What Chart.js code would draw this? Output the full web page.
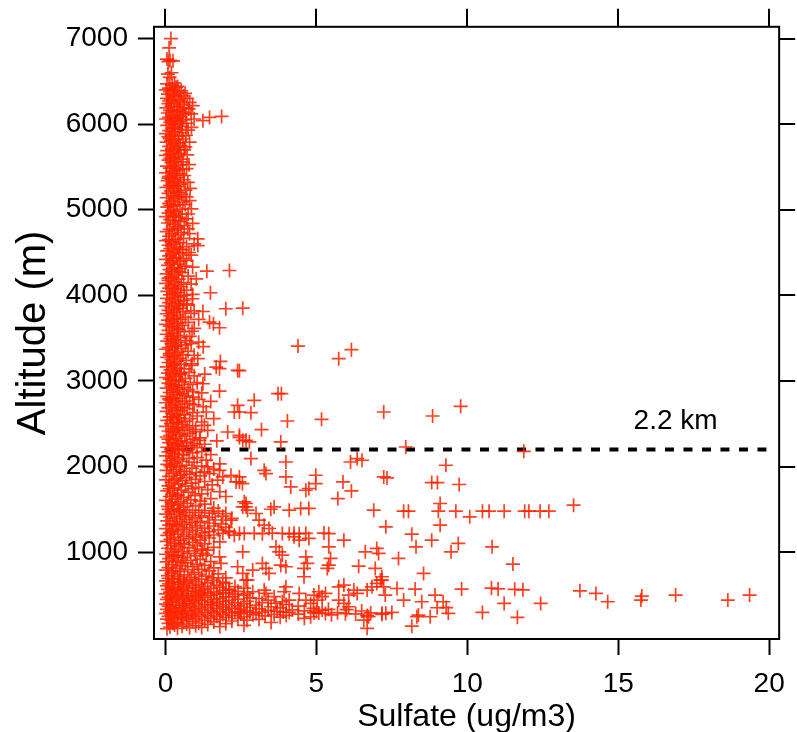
<!DOCTYPE html>
<html>
<head>
<meta charset="utf-8">
<script src="https://cdn.jsdelivr.net/npm/chart.js@4.4.1/dist/chart.umd.min.js"></script>
<style>
  html, body { margin: 0; padding: 0; background: #fff; }
  #wrap { width: 797px; height: 732px; }
</style>
</head>
<body>
<div id="wrap"><canvas id="sulfateChart" width="797" height="732"></canvas></div>
<script>
// tick values
const xTicks = [0, 5, 10, 15, 20];
const yTicks = [1000, 2000, 3000, 4000, 5000, 6000, 7000];

// reference line (boundary layer top)
const refAltitude = 2200;
const refLineX = [0, 20];
const refLabel = '2.2 km';
const refLabelAt = [16.9, 2530];

// [sulfate ug/m3, altitude m]
const band7000to4000 = [
  [0.18,7000],[0.12,6890],[0.05,6760],[0.15,6745],[0.25,6740],[0.1,6730],[0.2,6600],[0.08,6585],[0.14,6545],
  [0.3,6480],[0.05,6470],[0.22,6455],[0.4,6440],[0.12,6420],
  [0.02,6400],[0.3,6395],[0.52,6390],[0.15,6380],[0.45,6370],[0.08,6350],[0.25,6340],[0.6,6330],[0.35,6320],
  [0.05,6300],[0.18,6290],[0.42,6280],[0.8,6253],[0.28,6250],[0.1,6240],[0.55,6230],[0.2,6210],[0.38,6200],
  [0.03,6190],[0.77,6177],[0.48,6170],[0.15,6160],[0.3,6150],[0.6,6140],[0.08,6130],[0.67,6118],[0.4,6110],
  [0.22,6100],[0.5,6090],[0.12,6080],[0.35,6070],[0.02,6060],[0.58,6050],[0.26,6045],[0.45,6030],[0.16,6020],
  [0.7,6010],[0.32,6000],[1.24,6040],[1.46,6078],[1.86,6090],
  [0.06,5985],[0.5,5975],[0.86,5962],[0.24,5950],[0.4,5940],[0.12,5925],[0.3,5910],[0.55,5900],[0.02,5890],
  [0.2,5875],[0.45,5860],[0.1,5850],[0.58,5826],[0.33,5820],[0.18,5805],[0.04,5790],[0.42,5780],[0.26,5765],
  [0.5,5750],[0.12,5740],[0.36,5725],[0.22,5710],[0.62,5700],[0.06,5690],[0.3,5675],[0.46,5660],[0.16,5650],
  [0.02,5635],[0.38,5620],[0.26,5605],[0.52,5590],[0.1,5580],[0.32,5565],[0.2,5550],[0.78,5526],[0.44,5520],
  [0.05,5510],[0.28,5500],[0.14,5485],[0.56,5470],[0.36,5460],[0.22,5445],[0.02,5430],[0.48,5420],[0.3,5405],
  [0.12,5390],[0.4,5375],[0.2,5360],[0.6,5350],[0.07,5340],[0.34,5325],[0.24,5310],[0.5,5300],[0.15,5285],
  [0.42,5270],[0.03,5260],[0.28,5245],[0.66,5230],[0.18,5220],[0.38,5205],[0.1,5190],[0.52,5180],[0.26,5165],
  [0.45,5150],[0.04,5140],[0.32,5125],[0.8,5106],[0.2,5100],[0.58,5090],[0.12,5075],[0.4,5060],[0.28,5045],
  [0.06,5030],[0.86,5010],[0.48,5005],
  [0.2,4990],[0.35,4975],[0.1,4960],[0.55,4950],[0.25,4935],[0.02,4920],[0.44,4910],[0.69,4893],[0.16,4885],
  [0.32,4870],[0.5,4860],[0.08,4845],[0.26,4830],[0.62,4815],[0.4,4800],[0.74,4776],[0.14,4770],[0.3,4760],
  [0.04,4745],[0.52,4735],[0.22,4720],[0.42,4705],[0.12,4690],[1.07,4660],[0.6,4665],[0.34,4650],[0.02,4640],
  [0.2,4625],[0.48,4615],[0.28,4600],[1.07,4581],[0.1,4585],[0.7,4570],[0.38,4560],[0.16,4545],[0.56,4530],
  [0.06,4520],[0.3,4505],[0.45,4490],[0.22,4480],[0.85,4470],[0.12,4460],[0.36,4445],[0.6,4430],[0.02,4420],
  [0.26,4405],[0.5,4395],[0.18,4380],[0.4,4365],[0.08,4350],[0.65,4340],[0.3,4325],[0.48,4310],[0.14,4300],
  [1.37,4282],[2.12,4290],[0.22,4275],[0.55,4265],[0.04,4250],[0.35,4240],[0.75,4225],[0.18,4215],[1.02,4193],
  [0.44,4190],[0.1,4175],[0.28,4160],[0.6,4150],[0.02,4140],[0.38,4125],[0.2,4110],[0.52,4100],[0.12,4085],
  [0.32,4070],[0.7,4060],[1.49,4030],[0.06,4045],[0.42,4035],[0.25,4020],[0.9,4010],[0.15,4005]
];

const band4000to3000 = [
  [0.5,3990],[0.34,3975],[0.89,3960],[0.05,3965],[0.22,3950],[0.6,3940],[0.42,3925],[0.12,3915],[0.3,3900],
  [0.72,3885],[0.02,3875],[2.0,3843],[2.56,3850],[0.2,3860],[0.48,3850],[0.36,3835],[0.1,3825],[1.24,3811],
  [0.58,3810],[0.26,3800],[0.84,3790],[0.04,3785],[0.4,3770],[0.16,3760],[0.66,3745],[0.3,3735],[0.5,3720],
  [0.08,3710],[1.46,3687],[1.59,3668],[1.79,3621],[0.22,3695],[0.76,3685],[0.38,3675],[0.02,3660],[0.56,3650],
  [0.14,3640],[0.3,3625],[0.95,3615],[0.44,3600],[0.1,3590],[0.62,3575],[0.24,3560],[0.04,3545],[0.36,3530],
  [0.8,3520],[0.5,3505],[0.16,3495],[0.28,3480],[1.1,3453],[0.85,3434],[0.06,3465],[0.42,3450],[0.2,3435],
  [0.66,3420],[0.32,3405],[4.39,3407],[0.1,3390],[0.52,3380],[6.16,3365],[0.02,3370],[0.24,3355],[0.75,3345],
  [0.4,3330],[0.14,3320],[0.58,3305],[0.3,3290],[5.74,3260],[1.07,3260],[0.06,3275],[0.46,3265],[0.2,3250],
  [0.68,3240],[1.82,3228],[0.36,3230],[0.1,3215],[0.88,3200],[0.52,3195],[0.26,3180],[1.68,3162],[1.79,3143],
  [0.04,3165],[0.4,3150],[0.62,3140],[0.16,3130],[2.39,3123],[2.45,3120],[0.32,3115],[0.78,3100],[0.08,3090],
  [0.5,3080],[0.22,3070],[0.95,3060],[0.36,3050],[0.02,3040],[0.66,3030],[0.14,3020],[0.44,3010],[0.28,3000]
];

const band3000to2200 = [
  [0.55,2990],[1.24,2967],[0.1,2975],[0.82,2960],[0.34,2950],[0.2,2935],[0.62,2925],[0.04,2915],[0.46,2905],
  [1.79,2881],[0.28,2890],[0.9,2875],[0.14,2865],[3.73,2851],[3.84,2851],[0.56,2850],[0.38,2840],[0.7,2825],
  [0.91,2811],[0.06,2820],[0.24,2805],[2.94,2773],[0.48,2795],[1.1,2785],[0.16,2775],[0.64,2765],[0.32,2755],
  [0.02,2745],[0.8,2735],[0.42,2725],[2.39,2715],[9.78,2703],[0.2,2715],[1.25,2700],[0.56,2695],[0.1,2685],
  [0.72,2675],[0.3,2665],[1.35,2637],[2.28,2637],[2.45,2637],[2.83,2629],[7.23,2637],[0.5,2650],[0.04,2645],
  [0.9,2630],[0.22,2620],[0.62,2610],[8.85,2590],[0.38,2600],[1.05,2590],[0.14,2580],[0.46,2570],[0.8,2560],
  [4.04,2532],[5.17,2551],[0.28,2550],[0.06,2540],[0.66,2530],[1.2,2520],[0.36,2510],[0.18,2500],[0.54,2490],
  [1.29,2481],[0.9,2475],[0.02,2470],[0.42,2460],[0.72,2450],[0.24,2440],[1.4,2423],[3.18,2430],[0.58,2425],
  [0.1,2415],[2.06,2403],[1.0,2405],[0.32,2395],[0.8,2385],[0.48,2375],[2.45,2365],[0.16,2365],[0.64,2355],
  [2.45,2340],[0.04,2345],[1.15,2335],[0.36,2330],[0.9,2320],[2.56,2306],[2.67,2306],[1.13,2306],[0.22,2310],
  [0.52,2300],[2.78,2287],[3.82,2287],[0.96,2268],[0.7,2285],[0.12,2280],[0.4,2270],[1.3,2260],[0.28,2255],
  [0.84,2245],[0.56,2235],[7.96,2228],[0.06,2225],[1.05,2220],[0.34,2210],[11.87,2178],[0.18,2200],[0.7,2195]
];

const band2200to1500 = [
  [0.45,2185],[1.2,2175],[0.1,2170],[0.9,2160],[0.3,2150],[1.5,2140],[0.6,2135],[0.02,2125],[0.22,2115],
  [1.05,2105],[2.83,2093],[6.35,2093],[0.78,2095],[0.4,2085],[1.35,2075],[6.51,2073],[0.14,2070],[0.55,2060],
  [3.99,2053],[6.13,2053],[0.95,2050],[0.3,2040],[1.8,2030],[0.06,2025],[9.29,2015],[0.7,2015],[1.2,2005],
  [0.46,2000],[1.4,1995],[0.2,1990],[0.88,1980],[1.6,1970],[0.36,1965],[1.79,1956],[3.27,1956],[0.04,1955],
  [0.62,1945],[1.29,1937],[1.02,1930],[3.33,1918],[1.46,1918],[0.26,1920],[0.8,1910],[4.98,1898],[2.17,1898],
  [0.5,1900],[1.15,1890],[0.12,1885],[1.9,1878],[2.45,1878],[3.99,1878],[7.23,1878],[7.34,1867],[0.7,1870],
  [0.38,1860],[1.0,1850],[1.73,1840],[0.02,1845],[0.56,1835],[1.3,1825],[2.34,1820],[2.45,1820],[5.88,1820],
  [8.82,1813],[9.01,1813],[0.2,1815],[0.86,1805],[2.55,1801],[4.98,1801],[9.73,1790],[0.44,1795],[1.55,1785],
  [0.1,1775],[0.66,1770],[4.15,1762],[1.1,1760],[0.3,1750],[4.75,1743],[0.9,1740],[1.4,1730],[4.65,1723],
  [6.16,1715],[0.52,1725],[0.06,1715],[1.8,1705],[0.76,1700],[0.24,1690],[1.2,1680],[0.4,1670],[0.98,1660],
  [2.0,1650],[0.14,1650],[0.6,1640],[5.71,1626],[1.5,1625],[0.32,1620],[0.84,1610],[0.02,1605],[1.15,1595],
  [2.61,1587],[0.5,1590],[0.2,1580],[2.67,1568],[9.1,1568],[13.52,1548],[0.72,1570],[1.3,1560],[0.4,1550],
  [1.0,1540],[0.08,1535],[2.56,1528],[2.67,1528],[3.6,1528],[0.6,1525],[1.6,1515],[4.48,1510],[4.75,1510],
  [0.28,1510]
];

const band1500to700 = [
  [2.72,1490],[3.49,1501],[4.1,1490],[6.9,1490],[7.89,1478],[8.05,1478],[9.04,1478],[9.62,1478],[10.5,1478],
  [10.72,1478],[11.22,1478],[11.9,1478],[12.04,1478],[12.41,1478],[12.7,1478],
  [0.1,1500],[0.45,1495],[0.9,1490],[1.3,1485],[1.75,1480],[0.2,1470],[0.65,1465],[1.1,1460],[1.55,1455],
  [2.0,1450],[3.0,1451],[0.02,1445],[0.38,1440],[0.8,1430],[1.2,1425],[1.9,1420],[0.55,1415],[0.15,1410],
  [10.08,1412],[1.45,1405],[0.98,1400],[2.2,1395],[0.3,1390],[0.7,1380],[3.1,1373],[2.17,1373],[1.65,1375],
  [0.06,1365],[1.15,1360],[0.48,1355],[0.88,1345],[1.4,1340],[0.24,1335],[1.85,1330],[0.62,1325],[3.27,1315],
  [9.1,1315],[0.12,1315],[1.05,1310],[1.6,1305],[0.4,1300],[7.3,1295],[2.0,1290],[0.8,1285],[1.3,1280],
  [3.43,1276],[0.02,1275],[0.55,1265],[1.75,1260],[1.0,1255],[0.28,1250],[2.1,1245],[1.45,1240],[2.12,1237],
  [0.7,1235],[0.14,1225],[1.2,1225],[1.9,1220],
  [2.45,1218],[2.61,1218],[2.94,1220],[3.21,1215],[3.54,1222],[3.87,1218],[4.1,1214],[4.26,1220],[4.43,1216],
  [4.65,1218],[5.25,1222],[5.41,1215],[8.16,1210],
  [0.42,1210],[0.9,1205],[1.6,1200],[2.28,1198],[0.06,1195],[1.3,1190],[0.6,1185],[1.0,1175],[4.26,1179],
  [0.3,1170],[1.45,1165],[4.75,1160],[0.78,1155],[0.16,1150],[4.43,1140],[5.91,1140],[8.82,1140],[1.15,1140],
  [0.5,1135],[0.04,1125],[1.8,1120],[0.9,1115],[0.3,1105],[9.7,1101],[1.3,1100],[0.62,1090],[0.18,1080],
  [1.05,1075],[0.44,1065],[3.66,1062],[5.41,1062],[8.3,1062],[10.82,1062],[7.0,1043],[1.6,1055],[0.78,1050],
  [0.08,1045],[1.2,1035],[0.35,1030],[1.4,1023],[0.96,1015],[0.56,1005],[2.56,1003],[3.77,1003],[6.62,1003],
  [9.46,1003],[0.2,1000],[1.24,985],[7.06,985],[0.72,985],[0.02,975],[1.35,965],[3.87,965],[0.42,965],
  [1.0,955],[1.79,945],[4.65,945],[0.26,945],[0.6,935],[5.47,926],[7.72,926],[0.12,925],[1.15,915],[0.84,905],
  [0.38,900],[1.5,890],[0.04,885],[1.84,868],[3.21,868],[4.7,868],[11.51,860],[0.66,875],[1.05,860],[0.22,855],
  [5.41,848],[3.82,848],[1.3,845],[0.5,840],[6.4,836],[3.99,829],[2.39,829],[0.9,830],[0.1,820],[1.6,815],
  [2.89,790],[3.33,810],[4.59,810],[5.36,810],[6.95,810],[0.34,810],[1.2,800],[0.74,795],[0.02,790],
  [1.45,780],[0.48,775],[0.96,765],[2.56,751],[3.43,751],[8.55,751],[0.2,755],[1.75,745],[1.1,740],[0.62,735],
  [0.08,725],[1.35,720],[4.59,712],[7.17,712],[0.4,715],[0.86,705],[2.0,700],[1.55,700]
];

const band700to100 = [
  [0.1,695],[0.5,690],[1.2,685],[0.3,680],[0.8,675],[2.67,673],[2.72,673],[7.12,673],[7.17,673],[1.6,670],
  [0.02,665],[0.6,660],[1.0,655],[1.9,650],[0.25,648],[1.4,640],[0.7,635],[2.0,634],[7.0,634],[0.12,630],
  [1.1,625],[0.45,620],[1.7,615],[5.91,615],[0.9,610],[0.05,605],[1.3,600],[2.3,598],[0.6,595],[3.99,595],
  [5.74,595],[6.84,595],[7.23,595],[1.8,590],[0.2,588],[1.0,585],[2.6,580],[0.4,578],[1.5,575],[0.75,570],
  [7.67,575],[8.27,568],[9.81,568],[10.8,580],[11.02,570],[11.57,565],[11.84,560],[2.1,568],[0.08,565],
  [1.25,560],[3.27,557],[2.12,557],[6.24,557],[6.68,557],[0.55,555],[1.9,552],[13.73,548],[0.3,548],[1.0,545],
  [2.4,542],[0.7,540],[2.89,537],[3.93,537],[5.08,537],[1.6,535],[0.15,532],[1.15,528],[2.0,525],[0.5,522],
  [1.4,520],[1.9,518],[2.72,518],[3.33,518],[4.43,518],[5.3,518],[6.35,518],[14.26,518],[0.9,515],[0.02,512],
  [2.3,510],[1.7,506],[0.4,504],[1.2,500],[4.92,498],[6.07,498],[7.28,498],[8.93,498],[16.9,498],[19.35,498],
  [0.75,496],[2.6,494],[0.2,492],[1.5,490],[15.78,487],[1.0,486],[0.6,482],[2.23,479],[3.6,479],[5.19,479],
  [2.0,476],[0.1,474],[1.3,472],[0.85,468],[2.8,465],[0.35,462],[1.8,460],[3.1,458],[0.55,455],[1.1,452],
  [2.4,450],[0.05,448],[1.6,445],[0.7,442],[7.89,440],[4.1,440],[4.65,440],[5.03,440],[5.74,440],[15.75,440],
  [18.63,440],[3.4,438],[2.1,436],[0.25,435],[1.2,432],[0.9,428],[2.7,425],[1.9,422],[3.87,420],[8.49,420],
  [9.2,420],[14.65,420],[0.45,418],[1.5,415],[0.15,412],[3.2,410],[2.3,408],[1.0,405],[3.66,401],[4.81,401],
  [5.91,401],[11.22,401],[12.43,401],[0.6,400],[1.7,398],[2.6,395],[0.02,392],[1.3,390],[4.0,388],[2.0,385],
  [0.8,382],[3.0,380],[0.35,378],[1.55,375],[2.4,372],[4.4,370],[0.1,368],[1.1,365],[6.07,362],[3.5,362],
  [1.9,360],[0.65,358],[2.8,356],[9.0,350],[9.3,352],[0.2,352],[1.4,350],[3.8,348],[2.2,346],[0.95,344],
  [4.9,342],[1.7,340],[0.45,338],[3.1,336],[2.5,334],[5.4,332],[0.05,330],[1.2,330],[6.0,328],[2.0,326],
  [4.2,325],[5.19,323],[0.7,322],[3.4,320],[1.5,318],[2.7,316],[0.3,315],[4.6,313],[6.5,312],[1.0,310],
  [3.7,308],[2.3,306],[0.15,305],[5.0,304],[1.8,302],[2.45,300],[2.8,300],[3.2,298],[3.9,300],[0.55,298],
  [4.1,296],[10.5,296],[7.5,296],[1.3,295],[5.7,292],[2.1,290],[4.92,290],[5.08,288],[0.85,288],[6.8,290],
  [7.17,286],[7.3,285],[9.37,285],[0.02,285],[1.6,284],[5.3,284],[3.0,283],[2.5,280],[5.96,280],[6.3,278],
  [0.4,278],[1.1,276],[4.4,275],[7.17,273],[3.6,272],[1.9,270],[0.65,270],[2.9,268],[5.5,268],[8.38,265],
  [0.2,265],[1.4,262],[6.68,260],[4.0,260],[2.2,258],[0.9,256],[3.3,254],[1.7,252],[0.1,250],[4.81,245],
  [6.73,245],[8.33,245],[8.77,245],[1.2,246],[2.6,244],[0.5,242],[11.66,238],[3.8,240],[2.0,236],[0.75,234],
  [1.5,230],[0.3,228],[4.6,226],[2.4,224],[1.0,220],[0.05,218],[3.1,215],[1.8,212],[0.6,210],[6.57,205],
  [2.7,205],[1.3,202],[0.2,200],[2.2,195],[0.9,190],[1.6,185],[0.4,180],[3.5,178],[1.1,172],[0.1,168],
  [2.0,165],[0.7,160],[1.4,155],[0.3,150],[2.6,145],[1.0,140],[0.55,135],[8.16,135],[1.8,130],[0.15,125],
  [1.2,120],[6.68,110],[0.8,115],[0.4,110],[0.05,105]
];

// extra readings inside the solid red column
const columnFill = [
  [0.35,6430],[0.65,6360],[0.72,6300],[0.48,6265],[0.9,6215],[0.62,6190],[0.85,6120],[0.95,6060],[0.55,6005],
  [0.75,5930],[0.68,5870],[0.8,5790],[0.66,5735],[0.72,5640],[0.58,5560],[0.7,5480],[0.62,5400],[0.74,5320],
  [0.82,5250],[0.7,5150],[0.65,5060],[0.75,4950],[0.9,4840],[0.8,4720],[0.95,4600],[0.78,4500],[0.7,4410],
  [0.9,4330],[0.85,4130],[0.62,4000],[0.7,3900],[0.95,3820],[1.1,3720],[0.88,3580],[0.7,3470],[1.25,3400],
  [0.95,3300],[0.85,3180],[1.3,3080],[1.05,2980],[0.75,2900],[1.2,2860],[1.5,2760],[0.95,2720],[1.6,2560],
  [1.0,2430],[1.7,2300],[0.6,2200],
  [0.28,6340],[0.12,6270],[0.4,6150],[0.2,6040],[0.3,5960],[0.14,5830],[0.42,5700],[0.16,5600],[0.36,5480],
  [0.1,5370],[0.3,5280],[0.44,5200],[0.16,5050],[0.28,4920],[0.4,4780],[0.12,4650],[0.46,4540],[0.26,4430],
  [0.42,4280],[0.1,4200],[0.3,4080],[0.44,3880],[0.26,3720],[0.4,3610],[0.2,3520],[0.36,3410],[0.14,3300],
  [0.3,3200],[0.48,3090],[0.2,2960],[0.4,2870],[0.12,2790],[0.36,2690],[0.2,2580],[0.42,2520],[0.26,2410],
  [0.1,2320],[0.42,2240],[0.3,2100],[0.16,2010],[0.5,1940],[0.3,1840],[0.14,1740],[0.4,1660],[0.22,1560],
  [0.48,1480],[0.35,1320],[0.2,1240],[0.5,1100],[0.3,960],[0.55,880],[0.25,780],[0.45,650],[0.3,560],
  [0.2,450],[0.6,380],[0.35,300],[0.55,240],[0.25,170]
];

const allPoints = [].concat(band7000to4000, band4000to3000, band3000to2200,
                            band2200to1500, band1500to700, band700to100, columnFill)
  .map(p => ({ x: p[0], y: p[1] }));

const fontFamily = '"Liberation Sans", Arial, Helvetica, sans-serif';

// frame, mirrored ticks and the "2.2 km" note
const framePlugin = {
  id: 'frame',
  afterDraw(chart) {
    const { ctx, chartArea: a, scales: { x, y } } = chart;
    ctx.save();
    ctx.strokeStyle = '#000';
    ctx.lineWidth = 2;
    ctx.strokeRect(a.left, a.top, a.right - a.left, a.bottom - a.top);
    ctx.beginPath();
    xTicks.forEach(v => {
      const px = Math.round(x.getPixelForValue(v));
      ctx.moveTo(px, a.top);
      ctx.lineTo(px, a.top - 18);
    });
    yTicks.forEach(v => {
      const py = Math.round(y.getPixelForValue(v));
      ctx.moveTo(a.right, py);
      ctx.lineTo(a.right + 16, py);
    });
    ctx.stroke();
    ctx.fillStyle = '#000';
    ctx.font = '28px ' + fontFamily;
    ctx.textAlign = 'center';
    ctx.textBaseline = 'middle';
    ctx.fillText(refLabel, x.getPixelForValue(refLabelAt[0]), y.getPixelForValue(refLabelAt[1]));
    ctx.restore();
  }
};

const ctx = document.getElementById('sulfateChart').getContext('2d');
new Chart(ctx, {
  type: 'scatter',
  data: {
    datasets: [
      {
        label: 'Sulfate',
        data: allPoints,
        pointStyle: 'cross',
        pointRadius: 7,
        pointBorderWidth: 1.7,
        borderColor: 'rgba(255, 36, 0, 0.88)',
        backgroundColor: 'rgba(255, 36, 0, 0.88)',
        order: 1
      },
      {
        type: 'line',
        label: refLabel,
        data: refLineX.map(v => ({ x: v, y: refAltitude })),
        borderColor: '#000',
        borderWidth: 4,
        borderDash: [9, 9.5],
        pointRadius: 0,
        fill: false,
        order: 2
      }
    ]
  },
  options: {
    responsive: false,
    animation: false,
    layout: { padding: { top: 26, right: 15, left: 0, bottom: 0 } },
    plugins: { legend: { display: false }, tooltip: { enabled: false } },
    scales: {
      x: {
        type: 'linear',
        min: -0.38,
        max: 20.33,
        afterBuildTicks: s => { s.ticks = xTicks.map(v => ({ value: v })); },
        afterFit: s => { s.height = 93; },
        border: { display: false },
        grid: { drawOnChartArea: false, tickLength: 16, tickWidth: 2, color: '#000' },
        ticks: { color: '#000', padding: 12, maxRotation: 0, callback: v => String(v),
                 font: { family: fontFamily, size: 28 } },
        title: { display: true, text: 'Sulfate (ug/m3)', color: '#000', padding: { top: 0, bottom: -4 },
                 font: { family: fontFamily, size: 32 } }
      },
      y: {
        type: 'linear',
        min: -15,
        max: 7137,
        afterBuildTicks: s => { s.ticks = yTicks.map(v => ({ value: v })); },
        afterFit: s => { s.width = 154; },
        border: { display: false },
        grid: { drawOnChartArea: false, tickLength: 16, tickWidth: 2, color: '#000' },
        ticks: { color: '#000', padding: 10, callback: v => String(v),
                 font: { family: fontFamily, size: 28 } },
        title: { display: true, text: 'Altitude (m)', color: '#000', padding: { top: 10, bottom: 0 },
                 font: { family: fontFamily, size: 40 } }
      }
    }
  },
  plugins: [framePlugin]
});
</script>
</body>
</html>
